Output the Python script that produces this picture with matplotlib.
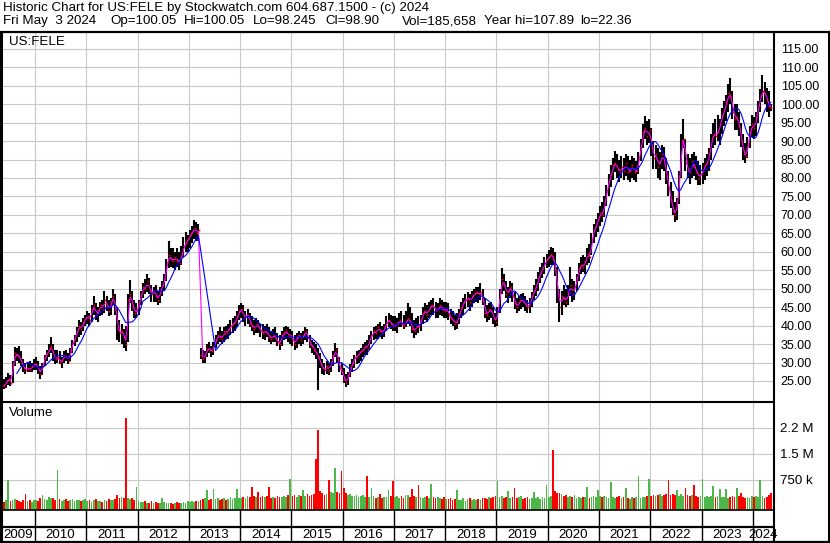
import numpy as np
import pandas as pd
import matplotlib
matplotlib.use('Agg')
import matplotlib.pyplot as plt
from matplotlib.lines import Line2D

plt.rcParams['font.family'] = ['Liberation Sans', 'DejaVu Sans']

# half-month periods, starting May 2009 (first half) up to May 2024 (first days)
# high / low / close for each half month
hi = [
    # 2009 (May-Dec)
    26.5, 25.5, 26.0, 27.2, 26.5, 30.5, 34.2, 34.0, 34.5, 33.0, 31.0, 30.0, 30.0, 30.5, 30.0, 31.0,
    # 2010
    31.5, 30.5, 29.0, 30.0, 32.0, 33.5, 35.0, 36.8, 35.0, 33.5, 33.5, 33.0,
    31.5, 33.0, 33.5, 32.5, 34.0, 36.0, 37.5, 39.5, 41.5, 41.0, 42.0, 43.0,
    # 2011
    44.0, 43.5, 45.5, 48.0, 46.0, 45.0, 46.5, 47.0, 49.5, 48.0, 47.0, 47.5,
    49.8, 48.5, 45.0, 41.5, 40.5, 39.0, 40.0, 48.5, 52.3, 49.5, 47.0, 46.0,
    # 2012
    47.0, 49.5, 51.5, 52.5, 54.0, 53.0, 51.0, 50.5, 51.0, 49.5, 50.5, 52.0,
    54.0, 58.0, 63.0, 61.0, 61.0, 60.0, 61.0, 60.0, 61.5, 64.0, 65.5, 64.5,
    # 2013
    66.0, 67.0, 68.5, 68.0, 67.5, 34.0, 33.5, 33.0, 35.0, 35.5, 34.5, 35.5,
    37.5, 38.5, 39.5, 38.5, 39.5, 40.0, 40.5, 41.5, 42.0, 42.5, 44.0, 45.5,
    # 2014
    46.2, 45.5, 44.0, 44.5, 43.5, 42.5, 41.5, 42.0, 41.5, 40.5, 40.5, 40.0,
    40.5, 39.5, 38.5, 39.0, 39.5, 38.0, 37.5, 38.5, 39.5, 40.0, 39.5, 39.0,
    # 2015
    38.5, 37.5, 38.0, 38.5, 38.0, 38.5, 39.7, 39.0, 37.5, 36.0, 35.5, 35.0,
    34.0, 32.5, 31.0, 30.0, 30.5, 30.0, 31.0, 33.0, 35.3, 34.0, 31.5, 30.0,
    # 2016
    28.5, 27.0, 27.5, 29.5, 31.0, 32.0, 33.0, 33.5, 34.0, 35.0, 35.5, 36.0,
    37.5, 38.5, 39.5, 40.0, 40.5, 41.0, 40.0, 40.5, 42.5, 43.3, 43.0, 42.5,
    # 2017
    42.5, 42.0, 43.5, 44.0, 43.0, 44.0, 46.0, 45.0, 43.5, 41.5, 42.0, 42.5,
    43.0, 45.0, 46.0, 45.5, 46.5, 47.0, 47.5, 46.5, 46.0, 47.4, 47.0, 46.5,
    # 2018
    46.5, 46.0, 44.5, 44.0, 43.0, 43.5, 44.5, 46.5, 47.5, 48.5, 49.0, 48.5,
    49.5, 50.0, 50.5, 50.5, 51.5, 50.0, 47.5, 45.5, 46.0, 46.5, 45.0, 43.5,
    # 2019
    45.0, 50.0, 55.5, 54.0, 52.0, 50.5, 52.0, 51.5, 49.0, 47.5, 48.0, 48.5,
    48.8, 48.0, 47.0, 47.5, 49.0, 51.0, 52.5, 54.5, 56.0, 57.0, 58.5, 59.5,
    # 2020
    60.5, 61.2, 61.0, 60.0, 56.0, 50.0, 49.5, 51.0, 50.0, 51.0, 55.8, 52.5,
    52.0, 54.0, 57.0, 58.5, 59.0, 58.5, 61.0, 62.0, 65.0, 67.5, 69.0, 70.5,
    # 2021
    72.5, 73.5, 75.0, 78.0, 81.0, 83.5, 85.5, 87.4, 86.5, 85.0, 86.0, 85.5,
    86.5, 86.0, 85.0, 86.0, 85.5, 84.5, 87.0, 90.5, 94.5, 96.9, 95.5, 96.0,
    # 2022
    93.5, 90.0, 89.0, 88.0, 87.0, 89.0, 88.5, 85.5, 82.0, 79.0, 76.5, 73.5,
    74.5, 82.0, 92.0, 96.0, 90.5, 86.5, 85.5, 86.5, 87.0, 86.0, 84.5, 83.5,
    # 2023
    84.0, 85.5, 86.5, 88.0, 92.0, 95.0, 96.0, 97.0, 96.0, 99.0, 101.0, 102.5,
    105.5, 107.2, 103.5, 100.0, 100.0, 98.0, 95.0, 92.0, 89.5, 91.0, 94.0, 97.0,
    # 2024 (Jan-May)
    96.5, 98.0, 101.0, 104.0, 107.8, 106.0, 104.5, 103.5, 100.05,
]
lo = [
    22.4, 22.8, 23.0, 24.0, 23.5, 24.5, 29.0, 30.5, 30.0, 29.0, 27.5, 27.0, 27.5, 27.5, 27.5, 28.0,
    28.0, 27.0, 25.5, 26.5, 29.0, 30.5, 31.5, 32.5, 30.5, 29.5, 30.0, 29.5,
    28.5, 29.8, 30.5, 29.5, 30.5, 32.5, 34.5, 35.5, 37.0, 37.5, 38.5, 40.0,
    40.5, 40.0, 41.0, 43.0, 41.5, 41.0, 42.5, 43.0, 43.5, 44.0, 42.5, 43.0,
    45.5, 43.0, 36.0, 35.5, 35.0, 34.0, 33.0, 35.5, 46.0, 44.0, 42.0, 42.0,
    43.0, 45.5, 47.5, 48.5, 49.0, 48.5, 46.5, 46.5, 46.5, 45.5, 46.0, 48.0,
    49.5, 52.0, 55.5, 56.0, 55.5, 55.0, 56.0, 55.0, 56.5, 58.5, 60.0, 60.0,
    61.0, 62.5, 63.5, 63.0, 63.0, 31.0, 29.9, 30.0, 31.5, 32.5, 31.5, 32.0,
    34.0, 35.0, 35.5, 35.0, 35.5, 36.5, 36.5, 37.5, 38.0, 38.5, 39.5, 41.5,
    42.0, 41.0, 40.0, 40.5, 39.5, 38.5, 37.5, 38.0, 38.0, 37.0, 36.5, 36.0,
    37.0, 35.5, 35.0, 35.5, 35.5, 34.5, 33.5, 34.5, 36.0, 36.5, 35.5, 35.0,
    34.5, 33.5, 34.0, 35.0, 34.5, 35.0, 36.0, 35.5, 34.0, 32.5, 32.0, 31.0,
    22.6, 28.5, 27.0, 26.5, 27.0, 26.5, 27.5, 29.0, 31.5, 30.0, 27.5, 26.5,
    24.5, 23.4, 24.0, 26.0, 27.5, 28.5, 29.5, 30.0, 30.5, 31.5, 32.0, 32.0,
    33.5, 35.0, 36.0, 36.5, 36.5, 37.0, 36.5, 37.0, 38.5, 39.5, 39.0, 38.5,
    38.5, 38.0, 39.5, 39.5, 39.0, 39.5, 40.5, 40.0, 38.0, 36.6, 37.5, 38.0,
    38.5, 40.5, 41.5, 41.0, 42.0, 43.0, 43.0, 42.0, 42.0, 43.0, 42.5, 42.0,
    42.0, 41.5, 40.5, 40.0, 38.8, 39.0, 40.5, 42.0, 43.0, 44.5, 45.0, 44.0,
    45.0, 46.0, 46.5, 46.0, 47.0, 45.5, 42.0, 41.0, 41.5, 42.0, 40.5, 39.6,
    40.0, 43.5, 48.5, 49.5, 47.5, 46.0, 47.5, 46.5, 44.5, 43.5, 44.0, 44.5,
    45.0, 44.0, 43.4, 43.5, 45.0, 47.0, 48.0, 49.5, 51.5, 53.0, 54.0, 55.5,
    56.0, 56.5, 56.5, 53.5, 46.0, 41.0, 43.0, 45.5, 45.0, 45.5, 48.0, 46.5,
    47.0, 49.5, 52.0, 54.0, 54.5, 54.0, 56.5, 57.0, 59.0, 62.5, 64.0, 65.5,
    67.0, 68.0, 69.5, 72.5, 75.0, 77.5, 79.5, 81.5, 80.0, 79.0, 80.0, 79.5,
    80.5, 79.5, 79.0, 80.0, 79.5, 79.0, 81.0, 84.5, 88.0, 90.5, 89.0, 89.5,
    86.0, 82.5, 82.5, 80.0, 79.5, 82.5, 82.0, 78.5, 75.0, 72.0, 70.0, 68.0,
    68.5, 73.0, 80.0, 88.0, 82.0, 80.0, 78.5, 80.0, 80.5, 79.5, 78.0, 78.0,
    78.5, 79.5, 80.5, 82.0, 85.0, 88.0, 89.0, 90.0, 89.0, 92.0, 94.0, 95.5,
    98.0, 100.0, 96.0, 93.0, 93.0, 91.5, 88.5, 85.0, 84.0, 85.5, 88.0, 91.0,
    90.5, 91.5, 95.0, 98.0, 100.5, 100.0, 98.0, 96.5, 98.245,
]
cl = [
    24.0, 23.5, 25.0, 25.5, 24.5, 29.5, 32.5, 32.0, 31.5, 30.0, 28.5, 28.0, 28.5, 28.0, 29.0, 29.5,
    29.5, 28.0, 27.0, 29.5, 31.5, 32.5, 33.5, 34.5, 31.5, 31.0, 31.5, 30.0,
    30.5, 32.0, 31.5, 30.5, 33.5, 35.5, 36.5, 38.5, 40.0, 39.0, 41.0, 42.0,
    42.5, 41.5, 44.5, 45.5, 42.5, 44.0, 45.5, 44.5, 47.0, 45.5, 44.0, 46.5,
    48.0, 44.5, 39.0, 38.0, 38.5, 37.0, 35.0, 47.0, 48.5, 45.0, 43.5, 44.0,
    46.0, 48.5, 50.5, 50.0, 52.0, 49.5, 48.5, 49.5, 48.0, 47.0, 49.5, 51.0,
    52.5, 57.0, 59.0, 58.0, 57.5, 58.5, 57.5, 57.0, 59.5, 61.5, 62.5, 63.5,
    64.5, 65.5, 66.5, 65.0, 66.0, 32.0, 31.0, 32.0, 34.0, 33.5, 33.0, 34.5,
    36.0, 37.5, 37.0, 36.5, 38.5, 38.0, 39.0, 40.0, 40.5, 41.0, 42.5, 44.0,
    44.5, 42.0, 42.5, 43.0, 40.5, 40.0, 39.0, 40.5, 39.5, 38.5, 38.0, 38.5,
    38.0, 37.0, 36.5, 37.5, 36.5, 35.5, 35.0, 37.5, 38.0, 38.5, 37.0, 37.5,
    36.0, 35.0, 37.0, 37.5, 36.0, 37.5, 38.5, 37.0, 35.0, 34.5, 33.5, 32.5,
    31.5, 29.5, 28.5, 28.0, 29.0, 28.0, 30.0, 32.0, 33.5, 31.0, 28.5, 27.5,
    25.5, 24.5, 26.5, 28.5, 30.0, 31.5, 31.5, 32.5, 33.0, 33.5, 34.5, 34.0,
    36.5, 37.5, 38.5, 38.0, 39.5, 38.5, 38.0, 39.5, 41.0, 41.5, 40.5, 40.0,
    40.0, 40.5, 41.5, 40.5, 40.0, 41.0, 42.0, 41.0, 39.0, 38.5, 40.0, 39.5,
    41.5, 43.5, 44.0, 43.0, 45.0, 45.5, 45.0, 44.0, 44.5, 45.5, 44.5, 44.0,
    44.5, 43.0, 42.0, 41.5, 40.5, 41.0, 43.5, 45.0, 46.5, 47.0, 47.5, 46.5,
    48.0, 48.5, 49.0, 48.5, 49.0, 47.0, 43.5, 43.0, 44.5, 44.0, 42.0, 41.0,
    44.0, 49.0, 52.5, 51.0, 48.5, 49.5, 50.5, 48.0, 46.0, 45.0, 46.5, 47.0,
    46.5, 45.5, 45.0, 46.0, 48.0, 49.5, 50.5, 53.0, 54.5, 55.5, 57.0, 58.0,
    58.5, 59.5, 58.0, 55.0, 48.5, 45.0, 48.0, 47.5, 46.5, 49.0, 51.0, 48.5,
    50.5, 52.5, 55.5, 56.5, 56.0, 57.5, 59.5, 58.5, 63.5, 66.0, 67.0, 69.0,
    70.5, 70.0, 73.5, 76.5, 79.5, 81.0, 83.5, 84.0, 82.5, 81.5, 83.0, 82.0,
    84.0, 81.5, 82.0, 83.5, 81.5, 82.0, 85.5, 88.5, 92.5, 93.5, 91.5, 93.0,
    88.0, 85.5, 86.5, 83.0, 84.5, 86.5, 84.0, 80.5, 77.0, 74.0, 71.0, 70.0,
    73.5, 80.5, 90.0, 90.5, 84.0, 82.0, 81.5, 84.5, 83.0, 81.5, 80.0, 81.0,
    82.0, 83.5, 84.0, 86.5, 90.5, 92.0, 91.5, 92.5, 94.5, 97.0, 98.5, 100.5,
    103.0, 102.0, 98.0, 96.0, 96.5, 94.0, 90.0, 86.5, 86.0, 89.0, 92.5, 94.5,
    93.5, 96.5, 99.5, 102.5, 103.5, 103.0, 101.0, 99.5, 98.9,
]
# biggest daily volume in each half month, thousands of shares
vol_k = [
    150, 120, 180, 750, 130, 170, 200, 160, 140, 120, 180, 346, 130, 160, 110, 170,
    180, 150, 230, 317, 200, 160, 250, 230, 220, 170, 1040, 190, 150, 170, 200, 140, 160, 200, 150, 170, 180, 130, 160, 190,
    140, 170, 120, 160, 200, 130, 150, 110, 170, 140, 200, 160, 180, 210, 317, 230, 250, 220, 2540, 230, 200, 240, 170, 548,
    150, 120, 110, 140, 100, 90, 130, 80, 110, 90, 100, 231, 120, 90, 80, 100, 70, 90, 110, 80, 100, 120, 90, 130,
    120, 140, 110, 150, 130, 170, 200, 220, 462, 180, 210, 490, 190, 220, 170, 200, 230, 180, 210, 250, 190, 230, 490, 220,
    230, 260, 240, 280, 250, 548, 290, 270, 404, 250, 300, 260, 280, 557, 240, 270, 230, 290, 260, 250, 300, 270, 320, 779,
    280, 310, 260, 330, 290, 462, 300, 340, 280, 320, 360, 1350, 2190, 430, 370, 330, 350, 750, 400, 370, 1090, 410, 380, 1010,
    520, 370, 330, 350, 300, 280, 320, 260, 290, 310, 270, 866, 250, 520, 280, 240, 260, 346, 230, 270, 250, 462, 280, 731,
    250, 300, 230, 280, 240, 317, 310, 260, 490, 290, 250, 606, 270, 240, 260, 290, 230, 635, 250, 220, 270, 240, 210, 260,
    210, 190, 230, 170, 200, 462, 180, 160, 220, 150, 190, 231, 170, 210, 160, 200, 180, 220, 240, 210, 260, 230, 250, 290,
    721, 250, 290, 230, 260, 433, 240, 270, 520, 220, 250, 289, 210, 230, 260, 200, 240, 404, 220, 250, 210, 270, 240, 606,
    270, 300, 1620, 430, 370, 375, 340, 290, 310, 260, 280, 250, 317, 240, 270, 230, 260, 250, 548, 240, 270, 290, 250, 462,
    280, 250, 300, 260, 240, 683, 270, 230, 250, 289, 220, 260, 520, 240, 210, 250, 230, 260, 866, 240, 270, 250, 290, 770,
    300, 330, 280, 310, 350, 290, 320, 340, 750, 310, 360, 330, 462, 300, 340, 290, 520, 320, 280, 310, 606, 290, 260, 300,
    770, 270, 300, 250, 290, 577, 260, 280, 490, 250, 270, 490, 240, 260, 290, 250, 520, 280, 375, 260, 240, 270, 230, 290,
    260, 290, 250, 750, 280, 240, 270, 317, 375,
]
years = list(range(2009, 2025))
price_ticks = list(range(25, 116, 5))
quote_fields = ['Fri May  3 2024', 'Op=100.05', 'Hi=100.05', 'Lo=98.245',
                'Cl=98.90', 'Vol=185,658', 'Year hi=107.89', 'lo=22.36']
quote_x = [3, 110, 184, 253, 325, 402, 484, 580]

W, H = 830, 543
PX_YEAR = 51.27          # pixels per year, 2010 boundary at x=35


def fx(x):
    return x / W


def fy(y):
    return 1 - y / H


def px_of_year(t):
    return 35 + (t - 2010) * PX_YEAR


hi = np.array(hi)
lo = np.array(lo)
cl = np.array(cl)
vol = np.array(vol_k) * 1000.0
n = len(cl)
xs = 2009 + 4 / 12 + (np.arange(n) + 0.5) / 24.0
ma_fast = pd.Series(cl).rolling(2).mean()
ma_slow = pd.Series(cl).rolling(8).mean()
up = np.r_[True, cl[1:] >= cl[:-1]]
vcolors = np.where(up, '#4db848', '#ff0000')

x_left = 2010 + (2 - 35) / PX_YEAR
x_right = 2010 + (773 - 35) / PX_YEAR
p_top = 110 + (67.3 - 32) / 3.69
p_bot = 110 - (401 - 67.3) / 3.69

fig = plt.figure(figsize=(8.3, 5.43), dpi=100)
fs = 9.0
fs_head = 9.6
grid_c = '#c8c8c8'

# price panel
ax = fig.add_axes([fx(2), fy(401), fx(773) - fx(2), fy(32) - fy(401)])
ax.set_xlim(x_left, x_right)
ax.set_ylim(p_bot, p_top)
ax.set_xticks(years[1:])
ax.set_yticks(price_ticks)
ax.set_yticklabels(['%.2f' % v for v in price_ticks], fontsize=fs)
ax.yaxis.tick_right()
ax.tick_params(axis='both', length=0, pad=5.5)
ax.tick_params(axis='x', labelbottom=False)
ax.grid(True, color=grid_c, linewidth=0.8)
ax.set_axisbelow(True)
for s in ax.spines.values():
    s.set_visible(False)

ax.vlines(xs, lo, hi, color='black', linewidth=1.5)
ax.plot(xs + 0.008, cl, 's', color='red', markersize=1.2, markeredgewidth=0)
ax.plot(xs, ma_fast, color='#ff00ff', linewidth=0.8)
ax.plot(xs, ma_slow, color='#0000ff', linewidth=0.8)

# volume panel
av = fig.add_axes([fx(2), fy(509.5), fx(773) - fx(2), fy(402) - fy(509.5)])
v_bot = -3.5 * 750e3 / 26
v_top = (506 - 402) * 750e3 / 26
av.set_xlim(x_left, x_right)
av.set_ylim(v_bot, v_top)
av.bar(xs, vol - v_bot, bottom=v_bot, width=0.8 / 24, color=vcolors, linewidth=0)
av.set_xticks(years[1:])
av.set_yticks([750e3, 1.5e6, 2.25e6])
av.set_yticklabels(['750 k', '1.5 M', '2.2 M'], fontsize=fs_head)
av.yaxis.tick_right()
av.tick_params(axis='both', length=0, pad=5)
av.tick_params(axis='x', labelbottom=False)
av.grid(True, color=grid_c, linewidth=0.8)
av.set_axisbelow(True)
for s in av.spines.values():
    s.set_visible(False)

# header and panel labels
fig.text(fx(3), fy(8), 'Historic Chart for US:FELE by Stockwatch.com 604.687.1500 - (c) 2024',
         fontsize=fs_head, va='center', ha='left')
for txt, x in zip(quote_fields, quote_x):
    fig.text(fx(x), fy(21), txt, fontsize=fs_head, va='center', ha='left')
fig.text(fx(9), fy(42), 'US:FELE', fontsize=fs_head, va='center', ha='left')
fig.text(fx(9), fy(413), 'Volume', fontsize=fs_head, va='center', ha='left')


def line(x0, y0, x1, y1, lw):
    fig.add_artist(Line2D([fx(x0), fx(x1)], [fy(y0), fy(y1)], color='black',
                          linewidth=lw, solid_capstyle='butt'))


line(0, 31.5, 830, 31.5, 1.6)
line(1, 31, 1, 543, 2.2)
line(773.5, 31, 773.5, 542, 1.5)
line(828.5, 31, 828.5, 542, 1.5)
line(0, 401.5, 774, 401.5, 1.5)
line(0, 510, 774, 510, 1.2)
line(0, 527, 774, 527, 1.6)
line(0, 541.5, 830, 541.5, 1.6)

# date rows
for yr in years[1:]:
    bx = px_of_year(yr)
    line(bx, 510, bx, 541, 1.0)
for yr in years:
    a = max(px_of_year(yr), 2)
    b = min(px_of_year(yr + 1), 773)
    fig.text(fx((a + b) / 2), fy(535), str(yr), fontsize=fs_head, va='center', ha='center')

fig.savefig('out.png', dpi=100)
